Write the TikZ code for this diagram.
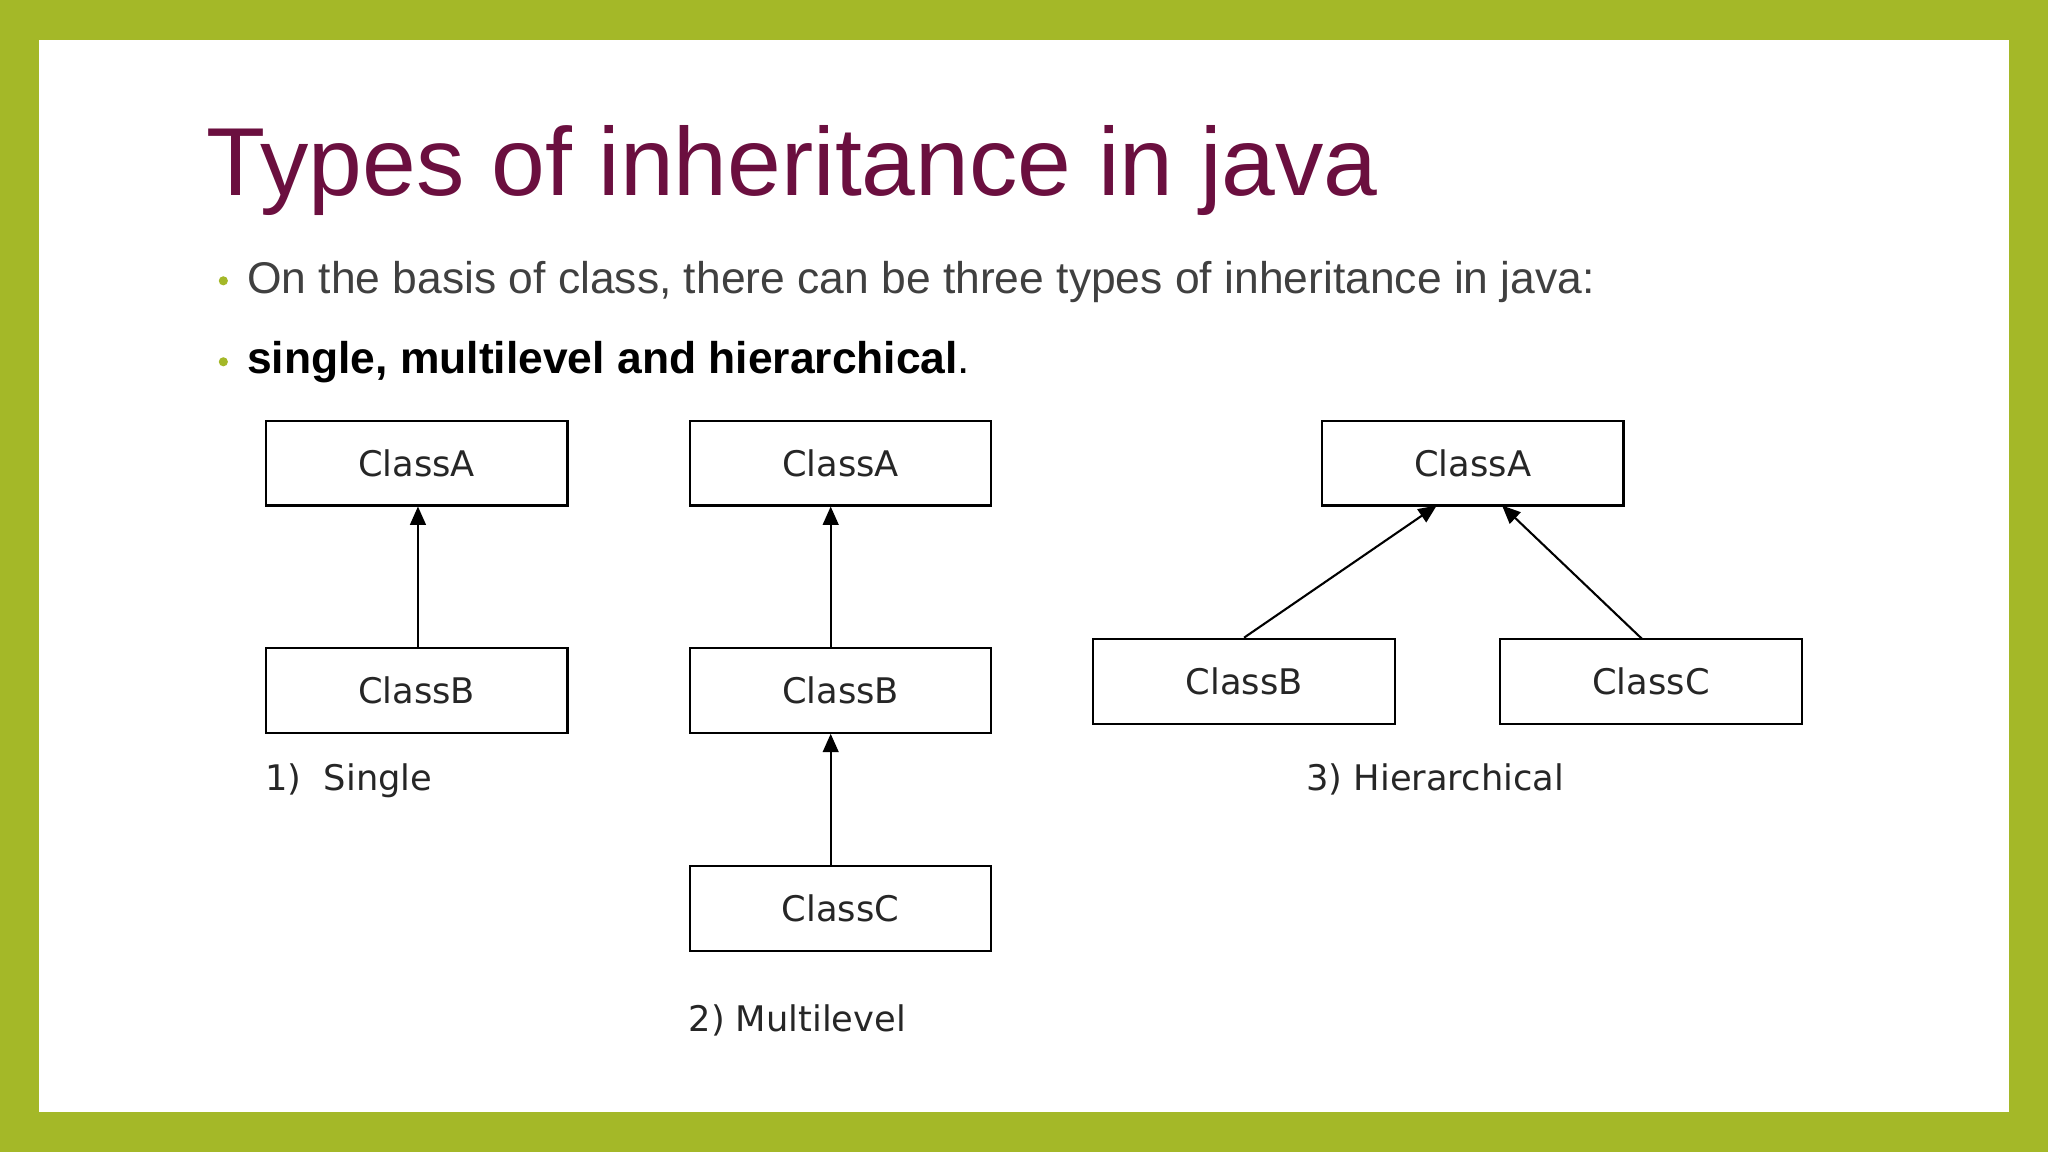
\documentclass[tikz,border=0pt]{standalone}
\usepackage{fontspec}
\setmainfont{Liberation Sans}
\newfontfamily\boxfont{DejaVu Sans}
\usetikzlibrary{arrows.meta}
\definecolor{frame}{HTML}{A4B828}
\definecolor{ttl}{HTML}{6B0F3F}
\definecolor{txt}{HTML}{404040}
\tikzset{
  cls/.style={draw=black, line width=1.6pt, minimum width=231pt, minimum height=65pt, inner sep=0pt, font=\boxfont\fontsize{27}{30}\selectfont, text=black!85},
  inh/.style={draw=black, line width=1.6pt, -{Triangle[length=14pt,width=12pt]}},
  lbl/.style={anchor=base west, inner sep=0pt, font=\boxfont\fontsize{27}{30}\selectfont, text=black!85}
}
\begin{document}
\begin{tikzpicture}[x=1pt,y=-1pt]
\useasboundingbox (0,0) rectangle (1568,882);
\fill[frame] (0,0) rectangle (1568,882);
\fill[white] (30,31) rectangle (1538,851);
\node[anchor=base west, inner sep=0pt, text=ttl, font=\fontsize{74}{80}\selectfont] (title) at (158,150) {Types of inheritance in java};
\fill[frame] (171,215) circle (3.5);
\node[anchor=base west, inner sep=0pt, text=txt, font=\fontsize{34}{38}\selectfont] (b1) at (189,225) {On the basis of class, there can be three types of inheritance in java:};
\fill[frame] (171,277) circle (3.5);
\node[anchor=base west, inner sep=0pt, text=black, font=\fontsize{34}{38}\selectfont] (b2) at (189,286) {\textbf{single, multilevel and hierarchical}.};
% single
\node[cls] (sa) at (319,354.5) {ClassA};
\node[cls] (sb) at (319,528.5) {ClassB};
\draw[inh] (sb.north) ++(1,0) coordinate (s1) (s1) -- (s1 |- sa.south);
\node[lbl] (l1) at (203,605) {1)\ \ Single};
% multilevel
\node[cls] (ma) at (643.5,354.5) {ClassA};
\node[cls] (mb) at (643.5,528.5) {ClassB};
\node[cls] (mc) at (643.5,695.5) {ClassC};
\coordinate (m1) at (636,496);
\coordinate (m2) at (636,663);
\draw[inh] (m1) -- (m1 |- ma.south);
\draw[inh] (m2) -- (m2 |- mb.south);
\node[lbl] (l2) at (527,790) {2) Multilevel};
% hierarchical
\node[cls] (ha) at (1127.5,354.5) {ClassA};
\node[cls] (hb) at (952.5,521.5) {ClassB};
\node[cls] (hc) at (1264,521.5) {ClassC};
\coordinate (h1) at (1100,387);
\coordinate (h2) at (1150,387);
\draw[inh] (hb.north) -- (h1);
\coordinate (hcn) at (1257,489);
\draw[inh] (hcn) -- (h2);
\node[lbl] (l3) at (1000,605) {3) Hierarchical};
\end{tikzpicture}
\end{document}
